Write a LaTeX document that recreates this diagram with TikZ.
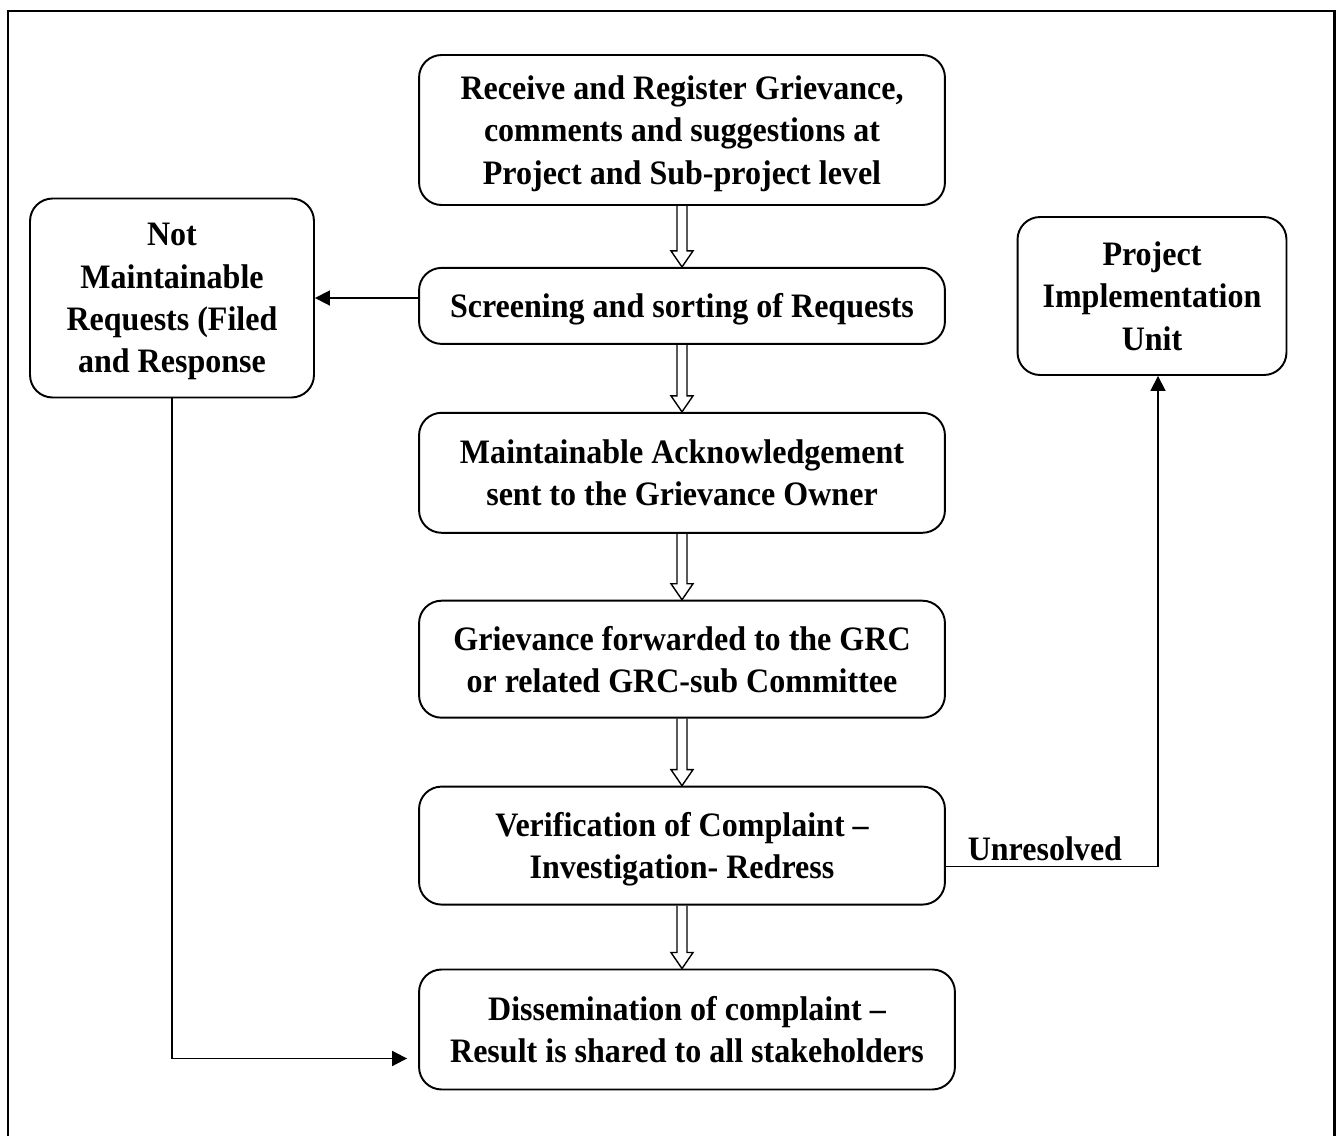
\documentclass[tikz,border=0pt]{standalone}
\usepackage{fontspec}
\setmainfont{Liberation Serif}[FakeStretch=0.935]
\usepackage{tikz}
\usetikzlibrary{positioning,calc,arrows.meta}

% hollow block arrow from the bottom of #1 to the top of #2
\newcommand{\hollowarrow}[2]{%
\draw[hollow] ($(#1.south)+(-5,0)$) -- ($(#1.south |- #2.north)+(-5,-16)$)
  -- ($(#1.south |- #2.north)+(-11,-16)$) -- (#1.south |- #2.north)
  -- ($(#1.south |- #2.north)+(11,-16)$) -- ($(#1.south |- #2.north)+(5,-16)$)
  -- ($(#1.south)+(5,0)$);}

\begin{document}
\begin{tikzpicture}[x=0.02cm,y=-0.02cm,node distance=1.3cm,
  box/.style={draw,line width=1.1pt,rounded corners=0.45cm,align=center,text depth=0pt,
    font=\bfseries\fontsize{19.5}{24}\selectfont,minimum width=10.52cm},
  sidebox/.style={box,minimum width=0cm},
  hollow/.style={line width=0.8pt},
  link/.style={line width=1pt,-{Triangle[length=0.3cm,width=0.3cm]}},
  frame/.style={line width=1.7pt}]
\useasboundingbox (0,0) rectangle (1336,1136);
\draw[frame] (8,1140) -- (8,11) -- (1334.5,11) -- (1334.5,1140);

\node(RECEIVE)   [box,minimum height=3cm] at (682,130)
  {Receive and Register Grievance,\\comments and suggestions at\\Project and Sub-project level};
\node(SCREEN)    [box,minimum height=1.52cm,below=1.22cm of RECEIVE] {Screening and sorting of Requests};
\node(ACK)       [box,minimum height=2.4cm,below=1.34cm of SCREEN]
  {Maintainable Acknowledgement\\sent to the Grievance Owner};
\node(FORWARD)   [box,minimum height=2.34cm,below=1.32cm of ACK]
  {Grievance forwarded to the GRC\\or related GRC-sub Committee};
\node(VERIFY)    [box,minimum height=2.36cm,below=1.34cm of FORWARD]
  {Verification of Complaint --\\Investigation- Redress};
\node(SHARE)     [box,minimum width=10.72cm,minimum height=2.4cm,below=1.26cm of VERIFY,xshift=0.1cm]
  {Dissemination of complaint --\\Result is shared to all stakeholders};
\node(NOTMAINT)  [sidebox,minimum width=5.68cm,minimum height=3.98cm] at (172,298)
  {Not\\Maintainable\\Requests (Filed\\and Response};
\node(PIU)       [sidebox,minimum width=5.38cm,minimum height=3.16cm] at (1152,296)
  {Project\\Implementation\\Unit};

\hollowarrow{RECEIVE}{SCREEN}
\hollowarrow{SCREEN}{ACK}
\hollowarrow{ACK}{FORWARD}
\hollowarrow{FORWARD}{VERIFY}
\hollowarrow{VERIFY}{SHARE}

\draw[link] (SCREEN.west |- NOTMAINT.east) -- (NOTMAINT.east);
\draw[link] (NOTMAINT.south) |- ($(SHARE.west)+(-11,29)$);
\draw[link] ($(VERIFY.east)+(0,21)$) -| ($(PIU.south)+(6,0)$)
  node[pos=0,anchor=base west,inner sep=0pt,xshift=0.42cm,yshift=0.12cm,
    font=\bfseries\fontsize{19.5}{22}\selectfont]{Unresolved};
\end{tikzpicture}
\end{document}
